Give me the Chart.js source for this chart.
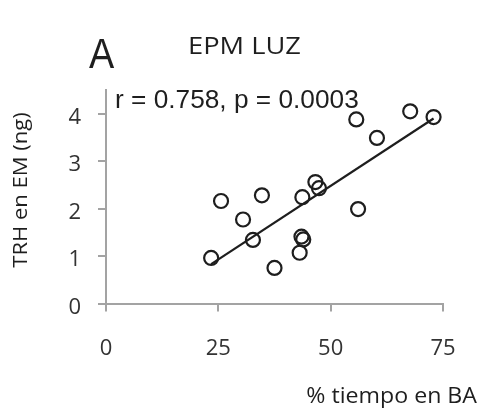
<!DOCTYPE html>
<html>
<head>
<meta charset="utf-8">
<script src="https://cdn.jsdelivr.net/npm/chart.js@4/dist/chart.umd.min.js"></script>
<style>
html, body { margin: 0; padding: 0; background: #fff; }
</style>
</head>
<body>
<canvas id="myChart" width="483" height="409"></canvas>
<script>
'use strict';

// % tiempo en brazos abiertos vs TRH en EM (ng), one point per animal
const tiempoBA = [25.6, 34.7, 30.5, 32.7, 23.4, 37.5, 55.7, 67.7, 72.9, 60.3, 46.6, 47.4, 43.7, 56.1, 43.5, 43.9, 43.1];
const trhEM    = [2.16, 2.28, 1.77, 1.34, 0.96, 0.75, 3.88, 4.05, 3.93, 3.49, 2.56, 2.43, 2.24, 1.99, 1.41, 1.35, 1.07];

// fitted line ends
const trendX = [23.4, 72.9];
const trendY = [0.83, 3.90];

const xTicks = [0, 25, 50, 75];
const yTicks = [0, 1, 2, 3, 4];

const panelLabel = 'A';
const panelTitle = 'EPM LUZ';
const statsLabel = 'r = 0.758, p = 0.0003';
const xTitle = '% tiempo en BA';
const yTitle = 'TRH en EM (ng)';

const AXIS_GREY = '#a3a3a3';
const INK = '#1e1e1e';

// draws text squeezed/stretched horizontally by sx
function wideText(ctx, text, x, y, font, sx, align, rot) {
    ctx.save();
    ctx.font = font;
    ctx.fillStyle = INK;
    ctx.textAlign = align;
    ctx.textBaseline = 'alphabetic';
    ctx.translate(x, y);
    if (rot) ctx.rotate(rot);
    ctx.scale(sx, 1);
    ctx.fillText(text, 0, 0);
    ctx.restore();
}

const labelsPlugin = {
    id: 'labels',
    beforeDraw(chart) {
        // y tick labels sit a little below their tick marks
        const y = chart.scales.y;
        if (!y._shifted) {
            const orig = y.drawLabels;
            y.drawLabels = function(area) {
                this.ctx.save();
                this.ctx.translate(0, 4);
                orig.call(this, area);
                this.ctx.restore();
            };
            y._shifted = true;
        }
    },
    afterDraw(chart) {
        const ctx = chart.ctx;
        wideText(ctx, panelLabel, 89, 68, '42px "Liberation Sans"', 0.9, 'left');
        wideText(ctx, panelTitle, 244.5, 54, '23.5px "Open Sans"', 1.16, 'center');
        wideText(ctx, statsLabel, 115, 108, '25px "Liberation Sans"', 1.05, 'left');
        wideText(ctx, xTitle, 477, 403, '22.5px "Open Sans"', 1.03, 'right');
        wideText(ctx, yTitle, 27, 190, '20px "Open Sans"', 1.1, 'center', -Math.PI / 2);
    }
};

const points = tiempoBA.map((x, i) => ({ x: x, y: trhEM[i] }));
const trend = trendX.map((x, i) => ({ x: x, y: trendY[i] }));

const axisGrid = {
    display: true,
    drawOnChartArea: false,
    drawTicks: true,
    tickLength: 8,
    color: AXIS_GREY,
    lineWidth: 2
};
const axisBorder = { display: true, color: AXIS_GREY, width: 2 };

const ctx = document.getElementById('myChart');
const myChart = new Chart(ctx, {
    type: 'scatter',
    data: {
        datasets: [
            {
                data: points,
                pointRadius: 7,
                pointHoverRadius: 7,
                pointBorderWidth: 2.2,
                borderColor: INK,
                backgroundColor: 'rgba(0,0,0,0)'
            },
            {
                type: 'line',
                data: trend,
                borderColor: INK,
                borderWidth: 2.2,
                pointRadius: 0,
                fill: false
            }
        ]
    },
    options: {
        responsive: false,
        animation: false,
        devicePixelRatio: 1,
        layout: { padding: { top: 90, right: 40, left: 0, bottom: 0 } },
        plugins: {
            legend: { display: false },
            tooltip: { enabled: false }
        },
        scales: {
            x: {
                type: 'linear',
                min: 0,
                max: 75,
                grid: axisGrid,
                border: axisBorder,
                afterBuildTicks: s => { s.ticks = xTicks.map(v => ({ value: v })); },
                afterFit: s => { s.height = 105.5; },
                ticks: {
                    padding: 24,
                    color: '#333',
                    font: { family: 'Open Sans', size: 22 }
                }
            },
            y: {
                min: 0,
                max: 4.5,
                grid: axisGrid,
                border: axisBorder,
                afterBuildTicks: s => { s.ticks = yTicks.map(v => ({ value: v })); },
                afterFit: s => { s.width = 106; },
                ticks: {
                    padding: 17,
                    color: '#333',
                    font: { family: 'Open Sans', size: 22 }
                }
            }
        }
    },
    plugins: [labelsPlugin]
});
</script>
</body>
</html>
